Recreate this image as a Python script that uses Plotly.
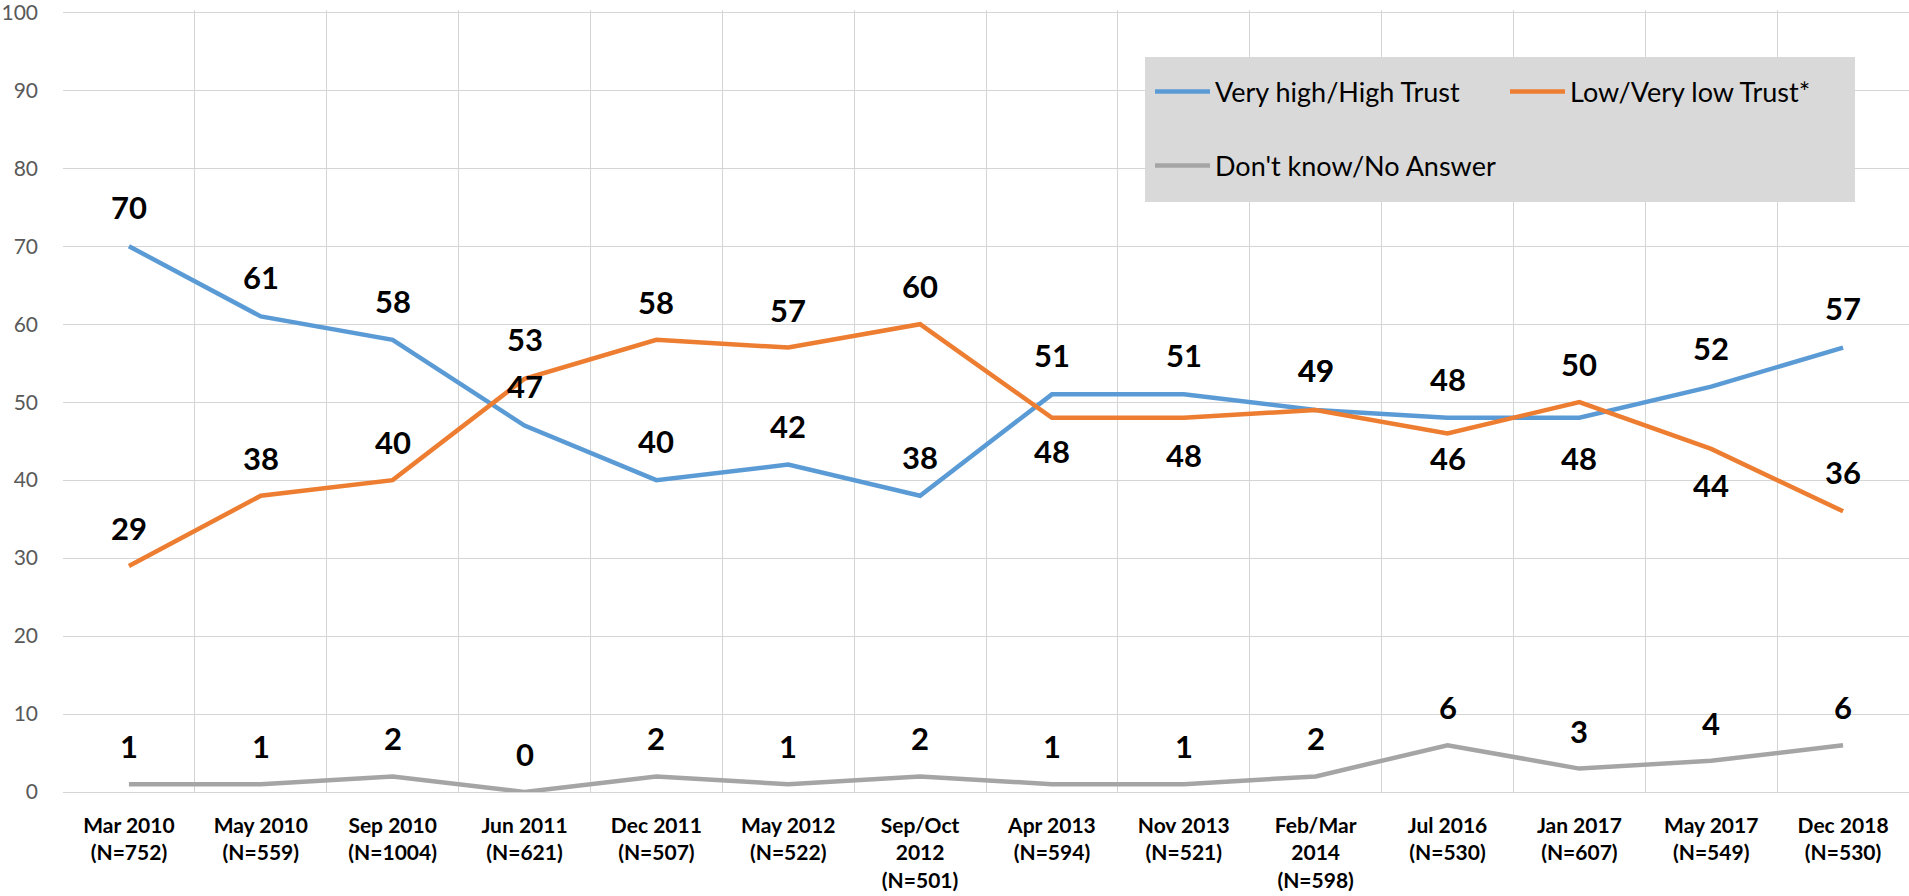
import plotly.graph_objects as go

categories = [
    "Mar 2010<br>(N=752)", "May 2010<br>(N=559)", "Sep 2010<br>(N=1004)",
    "Jun 2011<br>(N=621)", "Dec 2011<br>(N=507)", "May 2012<br>(N=522)",
    "Sep/Oct<br>2012<br>(N=501)", "Apr 2013<br>(N=594)", "Nov 2013<br>(N=521)",
    "Feb/Mar<br>2014<br>(N=598)", "Jul 2016<br>(N=530)", "Jan 2017<br>(N=607)",
    "May 2017<br>(N=549)", "Dec 2018<br>(N=530)",
]
high_trust = [70, 61, 58, 47, 40, 42, 38, 51, 51, 49, 48, 48, 52, 57]
low_trust = [29, 38, 40, 53, 58, 57, 60, 48, 48, 49, 46, 50, 44, 36]
dont_know = [1, 1, 2, 0, 2, 1, 2, 1, 1, 2, 6, 3, 4, 6]
y_ticks = [0, 10, 20, 30, 40, 50, 60, 70, 80, 90, 100]

series_names = ["Very high/High Trust", "Low/Very low Trust*", "Don't know/No Answer"]
colors = ["#5B9BD5", "#ED7D31", "#A5A5A5"]

# label placement (styling): pixel shift of each value label from its point
high_shift = [39, 39, 39, 40, 39, 39, 39, 39, 39, 40, 39, -40, 39, 40]
low_shift = [38, 38, 38, 40, 38, 38, 38, -33, -37, 40, -25, 38, -36, 39]
dk_shift = [38] * 14

FONT = "Lato, 'Open Sans', sans-serif"

fig = go.Figure()
legends = ["legend", "legend", "legend2"]
for name, vals, col, lg in zip(series_names, [high_trust, low_trust, dont_know], colors, legends):
    fig.add_trace(go.Scatter(
        x=categories, y=vals, name=name, mode="lines",
        line=dict(color=col, width=4.5), legend=lg,
        hoverinfo="skip",
    ))

annotations = []
for vals, shifts in [(high_trust, high_shift), (low_trust, low_shift), (dont_know, dk_shift)]:
    for c, v, s in zip(categories, vals, shifts):
        annotations.append(dict(
            x=c, y=v, xref="x", yref="y", text=str(v), showarrow=False,
            yshift=s, yanchor="middle",
            font=dict(family=FONT, size=31, color="#000000", weight="bold"),
        ))

W, H = 1909, 896
ml, mr, mt, mb = 63, 0, 10, 104
pw = W - ml - mr
ph = H - mt - mb

def px_x(x):
    return (x - ml) / pw

def px_y(y):
    return (H - mb - y) / ph

fig.add_shape(type="rect", xref="paper", yref="paper",
              x0=px_x(1145), x1=px_x(1855), y0=px_y(202), y1=px_y(57),
              fillcolor="#D9D9D9", line=dict(width=0), layer="above")

fig.update_layout(
    width=W, height=H,
    margin=dict(l=ml, r=mr, t=mt, b=mb, pad=0),
    plot_bgcolor="white", paper_bgcolor="white",
    font=dict(family=FONT),
    showlegend=True,
    annotations=annotations,
    legend=dict(
        x=px_x(1150), y=px_y(92), xanchor="left", yanchor="middle",
        orientation="h", bgcolor="rgba(0,0,0,0)",
        font=dict(family=FONT, size=27, color="#000000"),
        itemwidth=55, entrywidth=285, entrywidthmode="pixels",
        traceorder="normal",
    ),
    legend2=dict(
        x=px_x(1150), y=px_y(166), xanchor="left", yanchor="middle",
        orientation="h", bgcolor="rgba(0,0,0,0)",
        font=dict(family=FONT, size=27, color="#000000"),
        itemwidth=55,
    ),
    xaxis=dict(
        type="category", tickson="boundaries", showgrid=True,
        gridcolor="#D5D5D5", gridwidth=1.4,
        showline=False, zeroline=False, ticks="",
        range=[-0.5, 13.5], automargin=False,
        tickfont=dict(family=FONT, size=21, color="#000000", weight="bold"),
        ticklabelstandoff=19, ticklabeloverflow="allow",
    ),
    yaxis=dict(
        range=[0, 100.3], tickmode="array", tickvals=y_ticks,
        ticktext=[str(t) for t in y_ticks],
        showgrid=True, gridcolor="#D5D5D5", gridwidth=1.4,
        zeroline=True, zerolinecolor="#D5D5D5", zerolinewidth=1.4,
        showline=False, ticks="", automargin=False,
        tickfont=dict(family=FONT, size=21, color="#595959"),
        ticklabelstandoff=24, ticklabeloverflow="allow",
    ),
)

fig.write_html(
    "out.html",
    config={"displayModeBar": False},
    post_script="document.body.style.margin='0px';document.body.style.overflow='hidden';",
)
